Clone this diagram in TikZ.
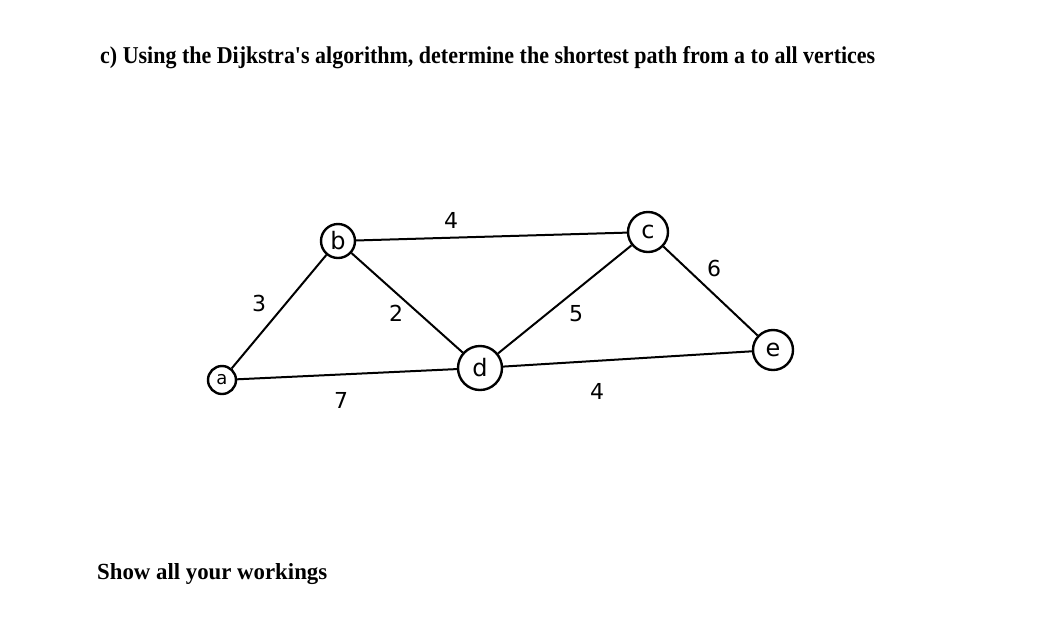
\documentclass[tikz,border=0pt]{standalone}
\usepackage{fontspec}
\setmainfont{Liberation Serif}
\newfontfamily\handfont{DejaVu Sans}
\tikzset{
    vertice/.style={draw, circle, line width=2.4pt, inner sep=0pt, font=\handfont\fontsize{24}{24}\selectfont},
    arista/.style={line width=2pt},
    peso/.style={font=\handfont\fontsize{22}{22}\selectfont}
}
\begin{document}
\begin{tikzpicture}[x=1pt, y=-1pt]
    \useasboundingbox (0,0) rectangle (1042,633);

    % Enunciado del ejercicio.
    \node[anchor=base west, inner sep=0pt] (titulo) at (100,63)
        {\resizebox{775pt}{17pt}{\bfseries c) Using the Dijkstra\textquotesingle s algorithm, determine the shortest path from a to all vertices}};

    % Vértices del grafo.
    \node[vertice, minimum size=28pt, font=\handfont\fontsize{18}{18}\selectfont] (a) at (222,380) {a};
    \node[vertice, minimum size=34pt] (b) at (338,241) {b};
    \node[vertice, minimum size=40pt] (c) at (648,232) {c};
    \node[vertice, minimum size=44pt] (d) at (480,368) {d};
    \node[vertice, minimum size=40pt] (e) at (773,350) {e};

    % Aristas.
    \draw[arista] (a) -- (b);
    \draw[arista] (a) -- (d);
    \draw[arista] (b) -- (c);
    \draw[arista] (b) -- (d);
    \draw[arista] (c) -- (d);
    \draw[arista] (c) -- (e);
    \draw[arista] (d) -- (e);

    % Pesos de las aristas.
    \node[peso] (pab) at (259,303) {3};
    \node[peso] (pad) at (341,400) {7};
    \node[peso] (pbc) at (451,220) {4};
    \node[peso] (pbd) at (396,313) {2};
    \node[peso] (pcd) at (576,314) {5};
    \node[peso] (pce) at (714,268) {6};
    \node[peso] (pde) at (597,391) {4};

    \node[anchor=base west, inner sep=0pt] (pie) at (97,579)
        {\resizebox{230pt}{16pt}{\bfseries Show all your workings}};
\end{tikzpicture}
\end{document}
